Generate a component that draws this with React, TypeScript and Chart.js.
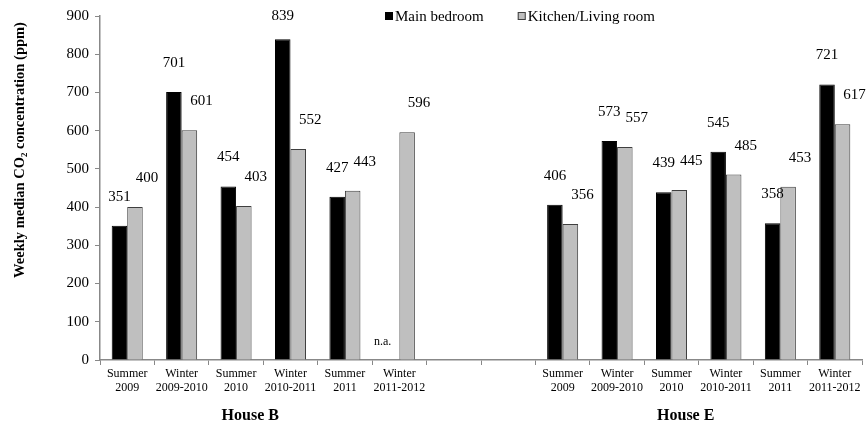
import { useEffect, useRef } from 'react';
import { Chart, registerables } from 'chart.js';

Chart.register(...registerables);

// ---- data ----
const seasons: string[][] = [
  ['Summer', '2009'],
  ['Winter', '2009-2010'],
  ['Summer', '2010'],
  ['Winter', '2010-2011'],
  ['Summer', '2011'],
  ['Winter', '2011-2012'],
];
const houses = ['House B', 'House E'];
const seriesNames = ['Main bedroom', 'Kitchen/Living room'];
const houseBBedroom: (number | null)[] = [351, 701, 454, 839, 427, null];
const houseBKitchen: (number | null)[] = [400, 601, 403, 552, 443, 596];
const houseEBedroom: (number | null)[] = [406, 573, 439, 545, 358, 721];
const houseEKitchen: (number | null)[] = [356, 557, 445, 485, 453, 617];
const yTickValues = [0, 100, 200, 300, 400, 500, 600, 700, 800, 900];
const gapSlots = 2;
const missingText = 'n.a.';
const yTitleParts = ['Weekly median CO', '2', ' concentration (ppm)'];

// ---- derived table ----
const gap = Array.from({ length: gapSlots }, () => null);
const labels: (string | string[])[] = [...seasons, ...gap.map(() => ''), ...seasons];
const bedroomValues = [...houseBBedroom, ...gap, ...houseEBedroom];
const kitchenValues = [...houseBKitchen, ...gap, ...houseEKitchen];
const houseStart = [0, seasons.length + gapSlots];
const isGap = (i: number) => i >= seasons.length && i < seasons.length + gapSlots;

const SERIF = '"Liberation Serif", "Times New Roman", serif';
const BLACK = '#000000';
const GRAY = '#bfbfbf';
const GRAY_BORDER = '#3f3f3f';
const AXIS = '#888888';

const overlayPlugin = {
  id: 'overlay',
  afterDatasetsDraw(chart: any) {
    const ctx = chart.ctx;
    const area = chart.chartArea;
    const xs = chart.scales.x;
    ctx.save();
    // value labels
    ctx.fillStyle = '#000';
    ctx.textAlign = 'center';
    ctx.textBaseline = 'middle';
    chart.data.datasets.forEach((ds: any, di: number) => {
      const meta = chart.getDatasetMeta(di);
      meta.data.forEach((el: any, i: number) => {
        const v = ds.data[i];
        if (v == null) {
          if (!isGap(i)) {
            ctx.font = `12px ${SERIF}`;
            ctx.fillText(missingText, el.x - 9, area.bottom - 18);
          }
          return;
        }
        ctx.font = `15px ${SERIF}`;
        const dx = di === 1 ? 12 : 0;
        const ty = Math.max(el.y - 29, area.top);
        ctx.fillText(String(v), el.x + dx, ty);
      });
    });

    // house labels
    ctx.font = `bold 16px ${SERIF}`;
    houses.forEach((h, k) => {
      const x = xs.getPixelForValue(houseStart[k] + 2.5) - 13;
      ctx.fillText(h, x, 416);
    });

    // legend
    ctx.font = `15px ${SERIF}`;
    ctx.textAlign = 'left';
    let lx = 385;
    const ly = 16;
    const fills = [BLACK, GRAY];
    const strokes = [BLACK, GRAY_BORDER];
    seriesNames.forEach((name, k) => {
      ctx.fillStyle = fills[k];
      ctx.fillRect(lx, ly - 4, 8, 8);
      ctx.strokeStyle = strokes[k];
      ctx.lineWidth = 1;
      ctx.strokeRect(lx + 0.5, ly - 3.5, 7, 7);
      ctx.fillStyle = '#000';
      ctx.fillText(name, lx + 10, ly + 1);
      lx += 10 + ctx.measureText(name).width + 34;
    });

    // y axis title with subscript
    ctx.translate(19, 150);
    ctx.rotate(-Math.PI / 2);
    const big = `bold 14.5px ${SERIF}`;
    const small = `bold 9px ${SERIF}`;
    ctx.font = big;
    const w0 = ctx.measureText(yTitleParts[0]).width;
    const w2 = ctx.measureText(yTitleParts[2]).width;
    ctx.font = small;
    const w1 = ctx.measureText(yTitleParts[1]).width;
    let tx = -(w0 + w1 + w2) / 2;
    ctx.textBaseline = 'alphabetic';
    ctx.font = big;
    ctx.fillText(yTitleParts[0], tx, 5);
    tx += w0;
    ctx.font = small;
    ctx.fillText(yTitleParts[1], tx, 8);
    tx += w1;
    ctx.font = big;
    ctx.fillText(yTitleParts[2], tx, 5);
    ctx.restore();
  },
};

export default function App() {
  const ref = useRef<HTMLCanvasElement | null>(null);
  useEffect(() => {
    document.body.style.margin = '0';
    if (!ref.current) return;
    const chart = new Chart(ref.current, {
      type: 'bar',
      data: {
        labels,
        datasets: [
          {
            label: seriesNames[0],
            data: bedroomValues,
            backgroundColor: BLACK,
            borderColor: BLACK,
            borderWidth: 1,
          },
          {
            label: seriesNames[1],
            data: kitchenValues,
            backgroundColor: GRAY,
            borderColor: GRAY_BORDER,
            borderWidth: 1,
          },
        ],
      },
      options: {
        responsive: false,
        animation: false,
        layout: { padding: { top: 16, right: 5, left: 0, bottom: 0 } },
        plugins: {
          legend: { display: false },
          tooltip: { enabled: false },
        },
        datasets: {
          bar: { categoryPercentage: 0.57, barPercentage: 1.0 },
        },
        scales: {
          x: {
            grid: {
              display: true,
              drawOnChartArea: false,
              drawTicks: true,
              tickLength: 5,
              color: AXIS,
              offset: true,
            },
            border: { display: true, color: AXIS, width: 1.5 },
            ticks: {
              color: '#000',
              font: { family: SERIF, size: 12, lineHeight: 1.15 },
              padding: 2,
              maxRotation: 0,
              autoSkip: false,
            },
            afterFit: (scale: any) => {
              scale.height = 66;
            },
          },
          y: {
            min: 0,
            max: 900,
            afterBuildTicks: (scale: any) => {
              scale.ticks = yTickValues.map((v) => ({ value: v }));
            },
            grid: {
              display: true,
              drawOnChartArea: false,
              drawTicks: true,
              tickLength: 5,
              color: AXIS,
            },
            border: { display: true, color: AXIS, width: 1.5 },
            ticks: {
              color: '#000',
              font: { family: SERIF, size: 15 },
              padding: 6,
            },
            afterFit: (scale: any) => {
              scale.width = 100;
            },
          },
        },
      },
      plugins: [overlayPlugin],
    });
    return () => chart.destroy();
  }, []);
  return (
    <div style={{ width: 867, height: 426 }}>
      <canvas ref={ref} width={867} height={426} />
    </div>
  );
}
